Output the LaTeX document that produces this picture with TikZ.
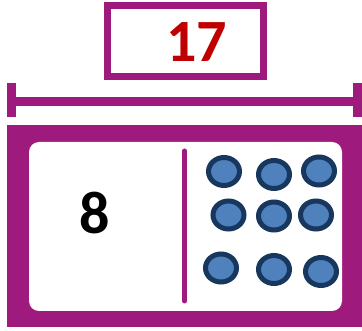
\documentclass[tikz,border=0pt]{standalone}
\usepackage{fontspec}
\setmainfont{Carlito}
\usetikzlibrary{shapes.geometric}
\definecolor{purp}{HTML}{9E1A7C}
\definecolor{dotfill}{HTML}{4F81BD}
\definecolor{dotline}{HTML}{17375E}
\definecolor{numred}{HTML}{C00000}
\tikzset{
  dot/.style={ellipse,draw=dotline,fill=dotfill,line width=5pt,inner sep=0pt,minimum width=31pt,minimum height=28pt},
  numtext/.style={inner sep=0pt,font=\bfseries\fontsize{60}{60}\selectfont},
  bar/.style={draw=purp,line width=9pt},
}
\begin{document}
\begin{tikzpicture}[x=1pt,y=-1pt]
\useasboundingbox (0,0) rectangle (362,331);
% top box
\node[draw=purp,line width=7pt,minimum width=156pt,minimum height=71pt,inner sep=0pt] (top) at (185.5,41) {};
\node[numtext,text=numred] (seventeen) at (196.5,42) {17};
% measuring bar
\coordinate (bl) at (11.5,101.5);
\coordinate (br) at (357.5,101.5);
\draw[bar] (bl) -- (br);
\draw[bar] (11.5,83) -- (11.5,117);
\draw[bar] (357.5,83) -- (357.5,117);
% big box
\node[fill=purp,minimum width=355pt,minimum height=202pt,inner sep=0pt] (outer) at (184.5,226) {};
\node[fill=white,rounded corners=10pt,minimum width=313pt,minimum height=169pt,inner sep=0pt] (inner) at (185.5,226.5) {};
\coordinate (dtop) at (184.5,151);
\coordinate (dbot) at (184.5,301);
\draw[purp,line width=5pt,line cap=round] (dtop) -- (dbot);
\node[numtext,text=black] (eight) at (95,213) {8};
% dots
\node[dot] (d1) at (224,171.5) {};
\node[dot] (d2) at (274,174.5) {};
\node[dot] (d3) at (319,171) {};
\node[dot] (d4) at (228.5,215) {};
\node[dot] (d5) at (274,216) {};
\node[dot] (d6) at (316,215) {};
\node[dot] (d7) at (221,268) {};
\node[dot] (d8) at (274,269.5) {};
\node[dot] (d9) at (321,271.5) {};
\end{tikzpicture}
\end{document}
